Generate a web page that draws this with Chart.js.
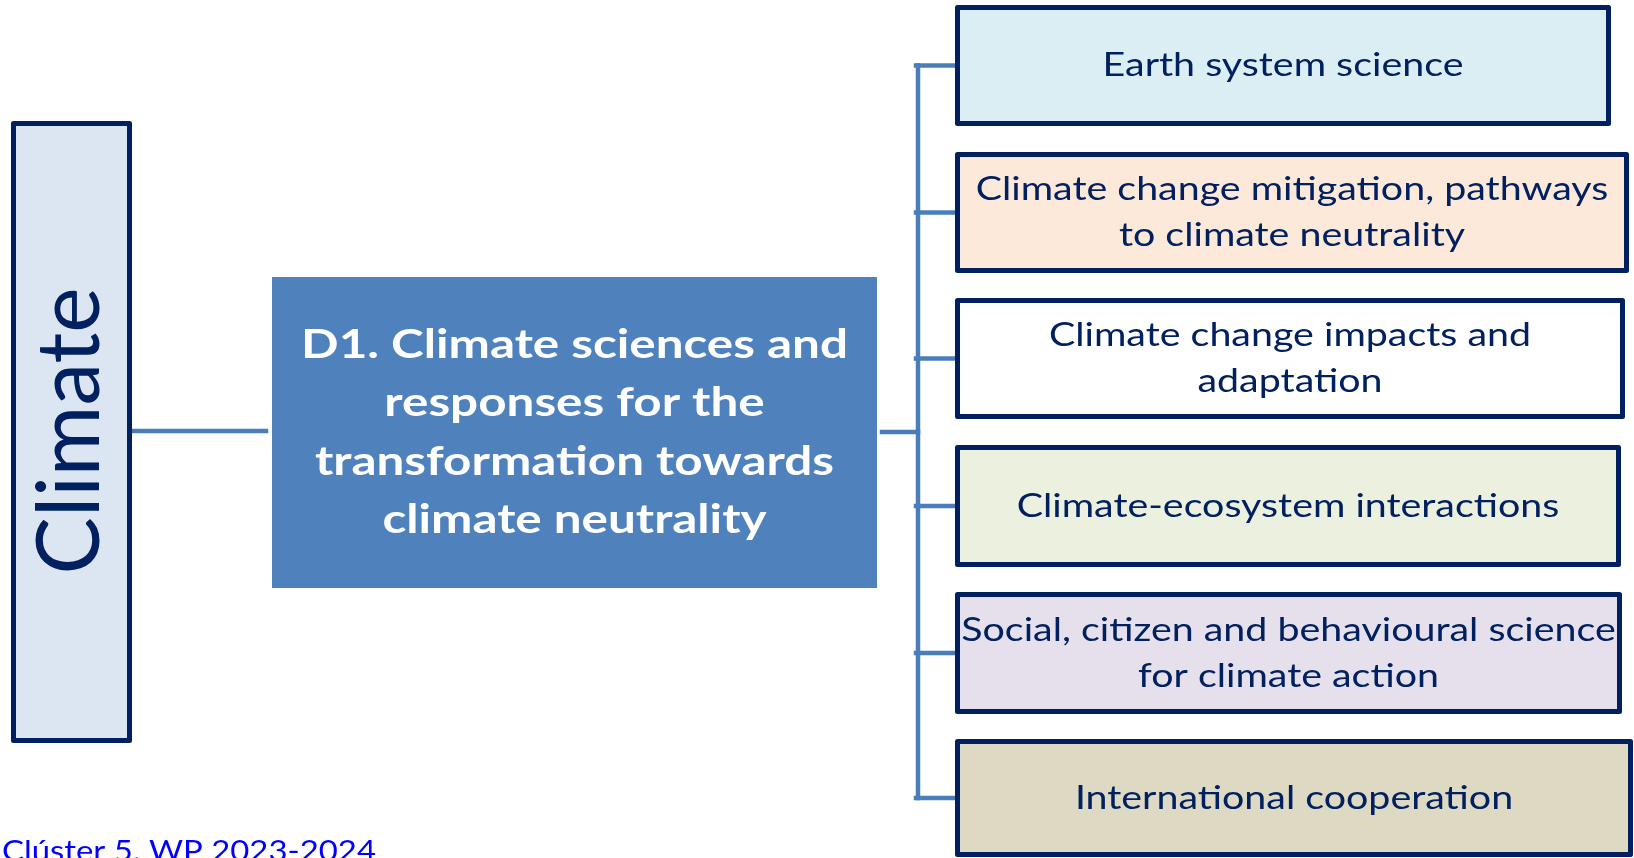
<!DOCTYPE html>
<html>
<head>
<meta charset="utf-8">
<script src="https://cdn.jsdelivr.net/npm/chart.js@4.4.1/dist/chart.umd.min.js"></script>
<style>
  html, body { margin: 0; padding: 0; background: #fff; overflow: hidden; }
  #wrap { width: 1634px; height: 858px; }
</style>
</head>
<body>
<div id="wrap"><canvas id="diagram" width="1634" height="858"></canvas></div>
<script>
// texts of the diagram
const rootLabel = 'Climate';
const destinationLines = ['D1. Climate sciences and', 'responses for the', 'transformation towards', 'climate neutrality'];
const topicLines = [
    ['Earth system science'],
    ['Climate change mitigation, pathways', 'to climate neutrality'],
    ['Climate change impacts and', 'adaptation'],
    ['Climate-ecosystem interactions'],
    ['Social, citizen and behavioural science', 'for climate action'],
    ['International cooperation'],
];
const footerText = 'Clúster 5. WP 2023-2024';

// box extents, in scale units (the scales run 0..1634 and 0..858)
const topicTop = [5, 152, 298, 445, 592, 739];
const topicBottom = [126, 273, 419, 567, 714, 857];
const topicRight = [1611, 1629, 1625, 1621, 1622, 1633];

// layout / style (kept apart from the data above)
const layout = {
    root: { x0: 11, x1: 132, y0: 121, y1: 743 },
    dest: { x0: 272, x1: 877, y0: 277, y1: 588 },
    topicLeft: 955,
    spineX: 918,
    rootLinkY: 431,
    destLinkY: 432,
};
const topicFill = ['#DAEEF3', '#FDE9D9', '#FFFFFF', '#EBF1DE', '#E5E0EC', '#DDD9C3'];
const navy = '#002060';
const linkColor = '#4A7EBB';
const fontFamily = 'Lato, "Open Sans", sans-serif';

const topicMid = topicTop.map((t, i) => (t + topicBottom[i]) / 2);

// connector lines, built from the layout
let linkSets = [];
linkSets.push([{ x: layout.root.x1, y: layout.rootLinkY }, { x: 266, y: layout.rootLinkY }]);
linkSets.push([{ x: 882, y: layout.destLinkY }, { x: layout.spineX, y: layout.destLinkY }]);
linkSets.push([{ x: layout.spineX, y: topicMid[0] }, { x: layout.spineX, y: topicMid[topicMid.length - 1] }]);
topicMid.forEach(m => {
    linkSets.push([{ x: layout.spineX - 2, y: m }, { x: layout.topicLeft, y: m }]);
});

function widthFactor(ctx, font, lines, targets) {
    ctx.font = font;
    let measured = 0, wanted = 0;
    lines.forEach((l, i) => { measured += ctx.measureText(l).width; wanted += targets[i]; });
    return wanted / measured;
}

function drawTextLines(ctx, lines, cx, midBaseline, spacing, font, color, k) {
    ctx.save();
    ctx.font = font;
    ctx.fillStyle = color;
    ctx.textAlign = 'center';
    ctx.textBaseline = 'alphabetic';
    let first = midBaseline - spacing * (lines.length - 1) / 2;
    lines.forEach((line, i) => {
        ctx.save();
        ctx.translate(cx, first + i * spacing);
        ctx.scale(k, 1);
        ctx.fillText(line, 0, 0);
        ctx.restore();
    });
    ctx.restore();
}

function strokeBox(ctx, x0, y0, x1, y1, fill, stroke, lw) {
    ctx.save();
    ctx.beginPath();
    let h = lw / 2;
    ctx.lineJoin = 'round';
    ctx.rect(x0 + h, y0 + h, (x1 - x0) - lw, (y1 - y0) - lw);
    ctx.fillStyle = fill;
    ctx.fill();
    if (stroke) {
        ctx.lineWidth = lw;
        ctx.strokeStyle = stroke;
        ctx.stroke();
    }
    ctx.restore();
}

const boxesPlugin = {
    id: 'boxes',
    afterDatasetsDraw(chart) {
        const ctx = chart.ctx;
        const xs = chart.scales.x;
        const ys = chart.scales.y;
        const X = v => xs.getPixelForValue(v);
        const Y = v => ys.getPixelForValue(v);

        // root box, rotated label
        let r = layout.root;
        strokeBox(ctx, X(r.x0), Y(r.y0), X(r.x1), Y(r.y1), '#DCE6F2', navy, 5);
        ctx.save();
        let rootFont = '88px ' + fontFamily;
        let kRoot = widthFactor(ctx, rootFont, [rootLabel], [287]);
        ctx.translate(X(99), Y(431));
        ctx.rotate(-Math.PI / 2);
        ctx.scale(kRoot, 1);
        ctx.font = rootFont;
        ctx.fillStyle = navy;
        ctx.textAlign = 'center';
        ctx.textBaseline = 'alphabetic';
        ctx.fillText(rootLabel, 0, 0);
        ctx.restore();

        // destination box
        let d = layout.dest;
        strokeBox(ctx, X(d.x0), Y(d.y0), X(d.x1), Y(d.y1), '#4F81BD', null, 0);
        let destFont = 'bold 40px ' + fontFamily;
        let kDest = widthFactor(ctx, destFont, [destinationLines[0], destinationLines[2]], [543, 523]);
        drawTextLines(ctx, destinationLines, X((d.x0 + d.x1) / 2), Y(445.5), 58.3, destFont, '#FFFFFF', kDest);

        // topic boxes
        let topicFont = '33px ' + fontFamily;
        let kTopic = widthFactor(ctx, topicFont,
            ['Earth system science', 'Climate change mitigation, pathways', 'Social, citizen and behavioural science'],
            [357, 635, 656]);
        topicLines.forEach((lines, i) => {
            strokeBox(ctx, X(layout.topicLeft), Y(topicTop[i]), X(topicRight[i]), Y(topicBottom[i]), topicFill[i], navy, 5);
            drawTextLines(ctx, lines, X((layout.topicLeft + topicRight[i]) / 2), Y(topicMid[i] + 10.5), 46,
                topicFont, navy, kTopic);
        });

        // footer
        ctx.save();
        let footFont = '29px ' + fontFamily;
        let kFoot = widthFactor(ctx, footFont, [footerText], [374]);
        ctx.translate(X(2), Y(861));
        ctx.scale(kFoot, 1);
        ctx.font = footFont;
        ctx.fillStyle = '#0000FF';
        ctx.textAlign = 'left';
        ctx.textBaseline = 'alphabetic';
        ctx.fillText(footerText, 0, 0);
        ctx.restore();
    }
};

new Chart(document.getElementById('diagram'), {
    type: 'scatter',
    data: {
        datasets: linkSets.map(pts => ({
            data: pts,
            showLine: true,
            borderColor: linkColor,
            borderWidth: 4.5,
            pointRadius: 0,
            borderCapStyle: 'square',
        }))
    },
    options: {
        responsive: false,
        animation: false,
        events: [],
        layout: { padding: 0 },
        plugins: { legend: { display: false }, tooltip: { enabled: false } },
        scales: {
            x: { type: 'linear', min: 0, max: 1634, display: false },
            y: { type: 'linear', min: 0, max: 858, reverse: true, display: false },
        },
    },
    plugins: [boxesPlugin],
});
</script>
</body>
</html>
